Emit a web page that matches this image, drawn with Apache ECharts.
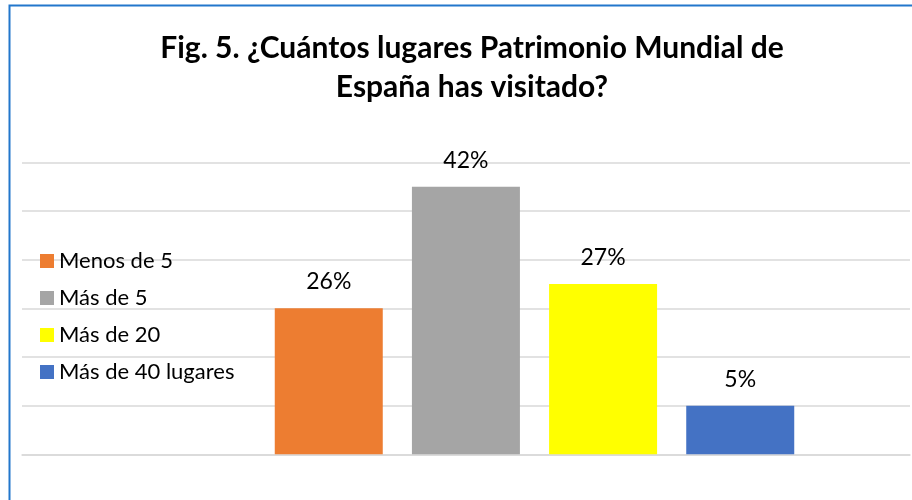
<!DOCTYPE html>
<html>
<head>
<meta charset="utf-8">
<script src="https://cdn.jsdelivr.net/npm/echarts@6/dist/echarts.min.js"></script>
<style>
  html, body { margin: 0; padding: 0; background: #fff; }
  #chart { width: 912px; height: 500px; }
</style>
</head>
<body>
<div id="chart"></div>
<script>
var seriesNames = ['Menos de 5', 'Más de 5', 'Más de 20', 'Más de 40 lugares'];
var barValues = [15, 27.5, 17.5, 5];
// data labels exactly as printed on the chart
var barLabels = ['26%', '42%', '27%', '5%'];
var barColors = ['#ED7D31', '#A5A5A5', '#FFFF00', '#4472C4'];
var yMax = 30;
var yStep = 5;

var font = 'Lato, "Liberation Sans", sans-serif';
var gridTop = 162.3, gridHeight = 292;

var myChart = echarts.init(document.getElementById('chart'));

var series = seriesNames.map(function (name, i) {
  return {
    name: name,
    type: 'bar',
    xAxisIndex: 1,
    yAxisIndex: 1,
    data: [barValues[i]],
    barWidth: 108,
    barGap: '27%',
    itemStyle: { color: barColors[i] },
    label: {
      show: true,
      position: 'top',
      distance: 15,
      color: '#000',
      fontFamily: font,
      fontSize: 23,
      formatter: function () { return barLabels[i]; }
    }
  };
});

myChart.setOption({
  animation: false,
  title: {
    text: 'Fig. 5. ¿Cuántos lugares Patrimonio Mundial de\nEspaña has visitado?',
    left: 467,
    top: 24,
    textAlign: 'center',
    textStyle: {
      fontFamily: font,
      fontWeight: 'bold',
      fontSize: 30,
      lineHeight: 39,
      color: '#000'
    }
  },
  legend: {
    orient: 'vertical',
    left: 35,
    top: 245,
    icon: 'rect',
    itemWidth: 14,
    itemHeight: 14,
    itemGap: 15,
    data: seriesNames,
    textStyle: { fontFamily: font, fontSize: 22, lineHeight: 22, color: '#000' }
  },
  grid: [
    // gridlines across the whole plot area
    { left: 22, right: 2, top: gridTop, height: gridHeight },
    // the bar group, centred where the original plot area centre lies
    { left: 270, right: 113, top: gridTop, height: gridHeight }
  ],
  xAxis: [{
    type: 'category',
    gridIndex: 0,
    data: [''],
    axisLine: { lineStyle: { color: '#d9d9d9', width: 1.5 } },
    axisTick: { show: false },
    axisLabel: { show: false }
  }, {
    type: 'category',
    gridIndex: 1,
    data: [''],
    axisLine: { show: false },
    axisTick: { show: false },
    axisLabel: { show: false }
  }],
  yAxis: [{
    type: 'value',
    gridIndex: 0,
    min: 0,
    max: yMax,
    interval: yStep,
    axisLabel: { show: false },
    axisLine: { show: false },
    axisTick: { show: false },
    splitLine: { lineStyle: { color: '#d9d9d9', width: 1.5 } }
  }, {
    type: 'value',
    gridIndex: 1,
    min: 0,
    max: yMax,
    interval: yStep,
    axisLabel: { show: false },
    axisLine: { show: false },
    axisTick: { show: false },
    splitLine: { show: false }
  }],
  graphic: [{
    type: 'rect',
    shape: { x: 9.5, y: 5.5, width: 1000, height: 600 },
    style: { fill: 'none', stroke: '#2277cc', lineWidth: 2 },
    silent: true
  }],
  series: series
});
</script>
</body>
</html>
